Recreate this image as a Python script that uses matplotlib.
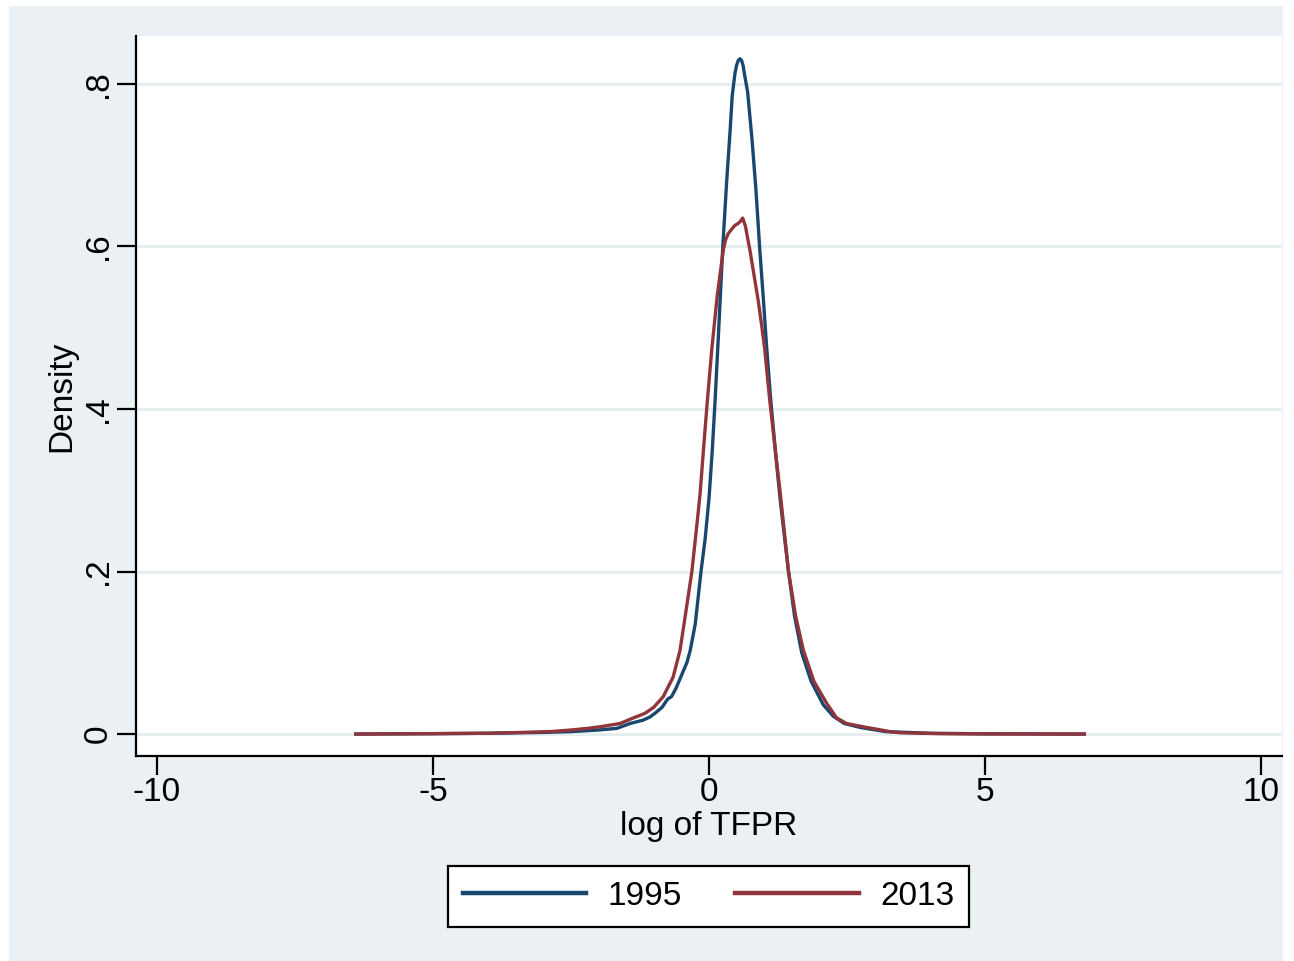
import matplotlib
matplotlib.use("Agg")
import matplotlib.pyplot as plt
from matplotlib.patches import Rectangle
from matplotlib.lines import Line2D

# ---- data ----
x_1995 = [-6.4, -5.0, -4.0, -3.0, -2.5, -2.0, -1.67, -1.43, -1.2, -1.07, -0.98, -0.85,
          -0.75, -0.68, -0.6, -0.5, -0.4, -0.34, -0.25, -0.145, -0.07, 0.0, 0.06, 0.11,
          0.17, 0.25, 0.32, 0.38, 0.42, 0.47, 0.50, 0.53, 0.56, 0.59, 0.62, 0.64, 0.70,
          0.78, 0.85, 0.92, 0.98, 1.04, 1.12, 1.20, 1.29, 1.44, 1.55, 1.68, 1.85, 2.07,
          2.25, 2.45, 2.75, 3.2, 4.0, 5.0, 6.8]
y_1995 = [0.0, 0.0005, 0.001, 0.002, 0.003, 0.005, 0.007, 0.013, 0.017, 0.021, 0.0255, 0.033,
          0.043, 0.046, 0.056, 0.072, 0.088, 0.103, 0.135, 0.200, 0.24, 0.29, 0.35, 0.41,
          0.49, 0.60, 0.68, 0.74, 0.785, 0.813, 0.823, 0.829, 0.831, 0.829, 0.822, 0.813, 0.790,
          0.731, 0.67, 0.596, 0.54, 0.48, 0.41, 0.35, 0.288, 0.200, 0.145, 0.100, 0.065, 0.036,
          0.022, 0.013, 0.008, 0.003, 0.001, 0.0003, 0.0]

x_2013 = [-6.4, -5.0, -4.0, -3.4, -2.88, -2.5, -2.2, -1.97, -1.61, -1.4, -1.16, -1.0, -0.83,
          -0.65, -0.525, -0.42, -0.31, -0.2, -0.16, -0.10, -0.03, 0.05, 0.15, 0.26, 0.30,
          0.35, 0.42, 0.47, 0.52, 0.57, 0.61, 0.66, 0.70, 0.74, 0.81, 0.89, 0.95, 1.01,
          1.10, 1.20, 1.29, 1.44, 1.57, 1.71, 1.90, 2.13, 2.31, 2.49, 2.79, 3.28, 3.46,
          4.18, 5.0, 6.8]
y_2013 = [0.0, 0.0005, 0.001, 0.002, 0.003, 0.005, 0.007, 0.009, 0.013, 0.019, 0.0255, 0.033, 0.046,
          0.07, 0.103, 0.15, 0.200, 0.27, 0.297, 0.350, 0.41, 0.473, 0.54, 0.596, 0.608,
          0.616, 0.622, 0.626, 0.628, 0.631, 0.635, 0.625, 0.610, 0.596, 0.567, 0.534, 0.505, 0.473,
          0.411, 0.350, 0.297, 0.200, 0.145, 0.103, 0.065, 0.038, 0.020, 0.013, 0.009, 0.003, 0.0016,
          0.0005, 0.0002, 0.0]

series_labels = ["1995", "2013"]
x_ticks = [-10, -5, 0, 5, 10]
x_ticklabels = ["-10", "-5", "0", "5", "10"]
y_ticks = [0, 0.2, 0.4, 0.6, 0.8]
y_ticklabels = ["0", ".2", ".4", ".6", ".8"]

# ---- style ----
W, H = 1294, 961
BG = "#eaf0f3"
GRID = "#e6eef0"
NAVY = "#1a476f"
MAROON = "#90353b"
plt.rcParams["font.family"] = ["Liberation Sans", "DejaVu Sans"]
FS = 24

fig = plt.figure(figsize=(W / 100, H / 100), dpi=100, facecolor="white")
fig.patches.append(Rectangle((9 / W, 0), (1283 - 9) / W, (H - 6) / H,
                             transform=fig.transFigure, facecolor=BG, edgecolor="none", zorder=-10))

AX_L, AX_R, AX_T, AX_B = 136, 1282, 36, 756
ax = fig.add_axes([AX_L / W, 1 - AX_B / H, (AX_R - AX_L) / W, (AX_B - AX_T) / H])
ax.set_facecolor("white")

for yt in y_ticks:
    ax.axhline(yt, color=GRID, lw=2.2, zorder=0)

l1, = ax.plot(x_1995, y_1995, color=NAVY, lw=2.4, zorder=3, solid_joinstyle="round")
l2, = ax.plot(x_2013, y_2013, color=MAROON, lw=2.4, zorder=4, solid_joinstyle="round")

ax.set_xlim(-10.38, 10.38)
ax.set_ylim(-0.027, 0.859)

for s in ["top", "right"]:
    ax.spines[s].set_visible(False)
for s in ["left", "bottom"]:
    ax.spines[s].set_linewidth(1.6)
    ax.spines[s].set_color("black")

ax.set_xticks(x_ticks)
ax.set_xticklabels(x_ticklabels, fontsize=FS)
ax.set_yticks(y_ticks)
ax.set_yticklabels(y_ticklabels, fontsize=FS, rotation=90, va="center")
ax.tick_params(axis="both", length=14, width=1.6, direction="out", color="black")
ax.tick_params(axis="x", pad=1)
ax.tick_params(axis="y", pad=2)

ax.set_xlabel("log of TFPR", fontsize=FS, labelpad=2)
ax.set_ylabel("Density", fontsize=FS)
ax.yaxis.set_label_coords((77 - AX_L) / (AX_R - AX_L), 0.5)

h1 = Line2D([], [], color=NAVY, lw=3.2)
h2 = Line2D([], [], color=MAROON, lw=3.2)
leg = fig.legend([h1, h2], series_labels, loc="center",
                 bbox_to_anchor=(708.5 / W, 1 - 896.5 / H), ncol=2, fontsize=FS,
                 frameon=True, fancybox=False, shadow=False, handlelength=3.7,
                 handletextpad=0.65, columnspacing=1.6, borderpad=0.45, borderaxespad=0)
leg.get_frame().set_edgecolor("black")
leg.get_frame().set_linewidth(1.6)
leg.get_frame().set_facecolor("white")
leg.get_frame().set_alpha(1)

fig.savefig("out.png", dpi=100, facecolor=fig.get_facecolor())
